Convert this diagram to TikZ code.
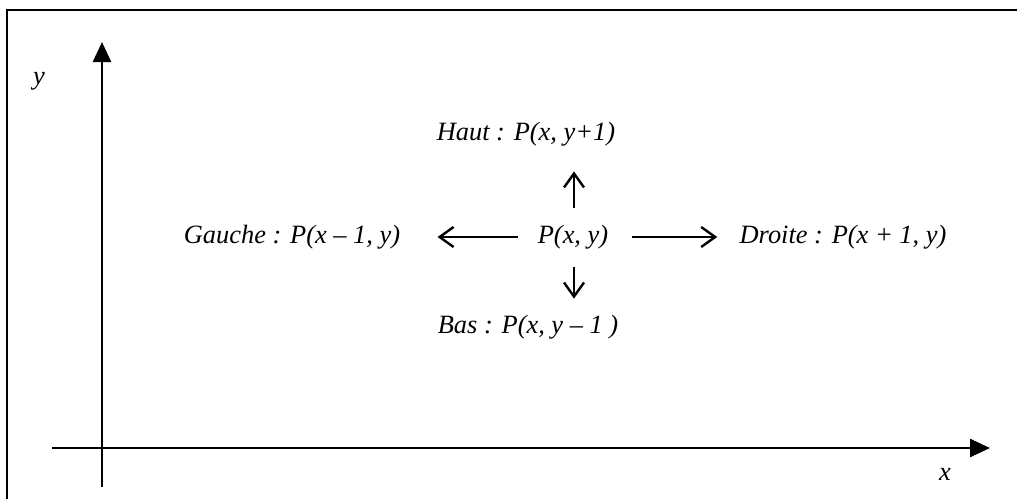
\documentclass[tikz,border=0pt]{standalone}
\usepackage{fontspec}
\setmainfont{Liberation Serif}
\usetikzlibrary{positioning, arrows.meta, calc}
\tikzset{
  label text/.style={font=\itshape\fontsize{13.2pt}{15pt}\selectfont, inner sep=0pt},
  axis/.style={line width=1.25pt, -{Triangle[length=10pt, width=9pt]}},
  step arrow/.style={line width=1.2pt, -{Straight Barb[length=7pt, width=10pt]}},
}

\begin{document}
\begin{tikzpicture}[x=0.5pt, y=-0.5pt]
  \useasboundingbox (0,0) rectangle (1017,499);
  % frame (only top and left edges visible)
  \draw[line width=1.2pt] (7,499) -- (7,10) -- (1017,10);

  % axes
  \coordinate (ybot) at (102,487);
  \coordinate (ytop) at (102,42);
  \coordinate (xleft) at (52,448);
  \coordinate (xright) at (990,448);
  \draw[axis] (ybot) -- (ytop);
  \draw[axis] (xleft) -- (xright);
  \node[label text] (ylab) at (39,81) {y};
  \node[label text] (xlab) at (945,474) {x};

  % neighbours of P
  \node[label text] (P) at (573,237) {P(x, y)};
  \node[label text] (haut) at (526,134) {Haut : P(x, y+1)};
  \node[label text] (bas) at (528,327) {Bas : P(x, y -- 1 )};
  \node[label text] (gauche) at (292,237) {Gauche : P(x -- 1, y)};
  \node[label text] (droite) at (843,237) {Droite : P(x + 1, y)};

  \draw[step arrow] ($(P.west)+(-19,0)$) -- ($(gauche.east)+(37,0)$);
  \draw[step arrow] ($(P.east)+(23,0)$) -- ($(droite.west)+(-22,0)$);
  \draw[step arrow] ($(P.north)+(1,-17)$) -- ($(P.north |- haut.south)+(1,25)$);
  \draw[step arrow] ($(P.south)+(1,18)$) -- ($(P.south |- bas.north)+(1,-16)$);
\end{tikzpicture}
\end{document}
